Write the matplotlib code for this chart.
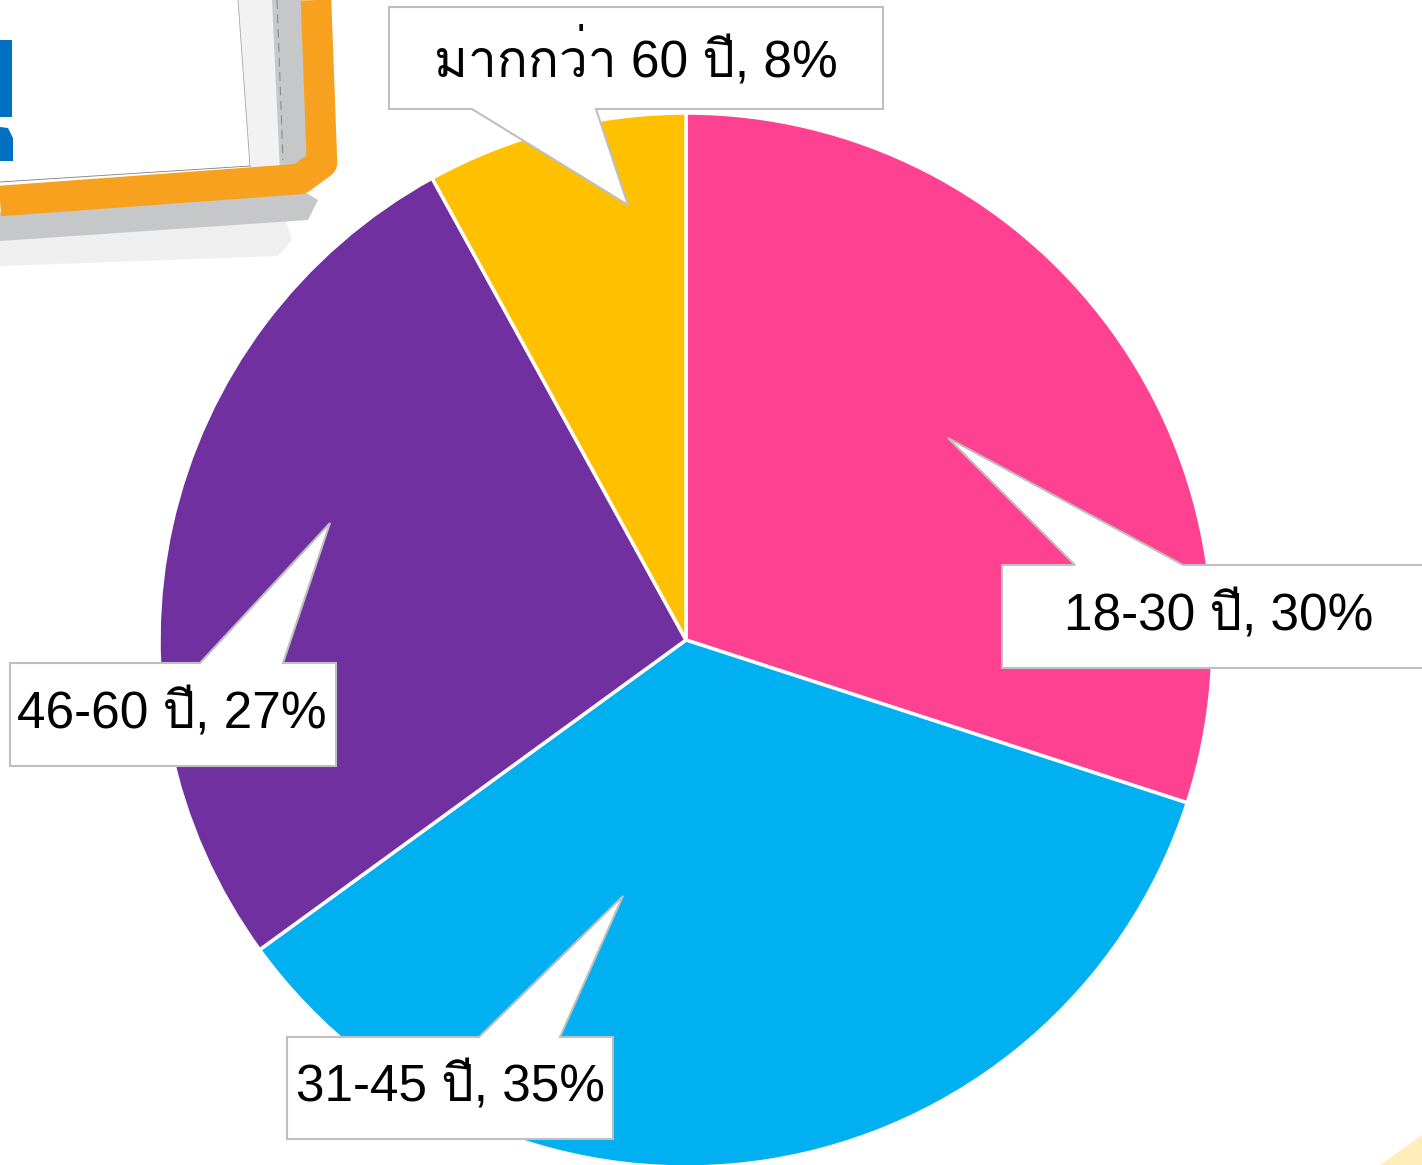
import matplotlib
matplotlib.use("Agg")
import matplotlib.pyplot as plt
from matplotlib import font_manager as fm
from matplotlib.ft2font import FT2Font
from matplotlib.patches import Polygon, Rectangle

# data
labels = ["18-30 ปี", "31-45 ปี", "46-60 ปี", "มากกว่า 60 ปี"]
percents = [30, 35, 27, 8]
colors = ["#FF4191", "#00B0F0", "#7030A0", "#FFC000"]

W, H = 1422, 1165


def thai_fonts():
    # fonts that have thai glyphs (Liberation Sans has none)
    names = []
    for f in fm.fontManager.ttflist:
        try:
            if FT2Font(f.fname).get_char_index(0x0E1B) and f.name not in names:
                names.append(f.name)
        except Exception:
            pass
    return names


found = thai_fonts()
thai_font = "Loma" if "Loma" in found else (found[0] if found else None)
families = ["Liberation Sans"]
if thai_font:
    families.append(thai_font)
families.append("DejaVu Sans")
plt.rcParams["font.family"] = families


def py(y):
    # pixel row from top -> data y (bottom up)
    return H - y


fig = plt.figure(figsize=(W / 100, H / 100), dpi=100)
ax = fig.add_axes([0, 0, 1, 1])

# background decoration (corner of the slide frame)
ax.add_patch(Polygon([(0, py(238)), (286, py(220)), (292, py(240)), (278, py(256)), (0, py(266))],
                     closed=True, facecolor="#EFEFEF", edgecolor="none", zorder=0))
ax.add_patch(Polygon([(238, py(0)), (274, py(0)), (281, py(168)), (250, py(170))],
                     closed=True, facecolor="#F2F2F2", edgecolor="none", zorder=0))
ax.plot([238, 250], [py(0), py(166)], color="#A8A8A8", lw=0.6, zorder=0)
ax.add_patch(Polygon([(0, py(212)), (305, py(192)), (318, py(200)), (308, py(220)), (0, py(241))],
                     closed=True, facecolor="#C6C7C9", edgecolor="none", zorder=0))
ax.add_patch(Polygon([(272, py(0)), (302, py(0)), (308, py(170)), (280, py(172))],
                     closed=True, facecolor="#C6C7C9", edgecolor="none", zorder=0))
ax.plot([277, 283], [py(0), py(160)], color="#8C8C8C", lw=0.8, ls=(0, (8, 5)), zorder=0)
ax.plot([0, 250], [py(182), py(166)], color="#7F7F7F", lw=0.6, zorder=0)
ax.plot([0, 300, 322, 316], [py(201), py(179), py(163), py(0)],
        color="#F7A11F", lw=22, solid_joinstyle="round", solid_capstyle="butt", zorder=0)
ax.add_patch(Rectangle((0, py(117)), 12, 77, facecolor="#0070C0", edgecolor="none", zorder=0))
ax.add_patch(Polygon([(0, py(127)), (8, py(128)), (13, py(138)), (13, py(161)), (0, py(161))],
                     closed=True, facecolor="#0070C0", edgecolor="none", zorder=0))
ax.add_patch(Polygon([(1380, 0), (W, 0), (W, py(1135))],
                     closed=True, facecolor="#FFEDBA", edgecolor="none", zorder=0))

# pie
ax.pie(percents, colors=colors, startangle=90, counterclock=False,
       center=(686, py(640)), radius=527,
       wedgeprops=dict(edgecolor="white", linewidth=2.5, zorder=1), frame=True)

# callouts: box (left, top, right, bottom), pointer base x0, x1 and tip
callouts = [
    dict(box=(1002, 565, 1445, 668), base=(1075, 1183), tip=(948, 438), side="top", tx=1219),
    dict(box=(287, 1037, 613, 1139), base=(479, 560), tip=(623, 896), side="top", tx=450),
    dict(box=(10, 663, 336, 766), base=(200, 283), tip=(330, 523), side="top", tx=172),
    dict(box=(389, 7, 883, 109), base=(472, 596), tip=(628, 205), side="bottom", tx=636),
]

for lab, pct, c in zip(labels, percents, callouts):
    l, t, r, b = c["box"]
    x0, x1 = c["base"]
    tx, ty = c["tip"]
    if c["side"] == "top":
        pts = [(l, t), (x0, t), (tx, ty), (x1, t), (r, t), (r, b), (l, b)]
    else:
        pts = [(l, t), (r, t), (r, b), (x1, b), (tx, ty), (x0, b), (l, b)]
    pts = [(x, py(y)) for x, y in pts]
    ax.add_patch(Polygon(pts, closed=True, facecolor="white", edgecolor="#BFBFBF",
                         linewidth=1.5, zorder=3, joinstyle="miter"))
    ax.text(c["tx"], py((t + b) / 2), f"{lab}, {pct}%", ha="center", va="center",
            fontsize=37, color="black", zorder=4)

ax.set_xlim(0, W)
ax.set_ylim(0, H)
ax.set_aspect("auto")
ax.axis("off")

fig.savefig("out.png", dpi=100, facecolor="white")
